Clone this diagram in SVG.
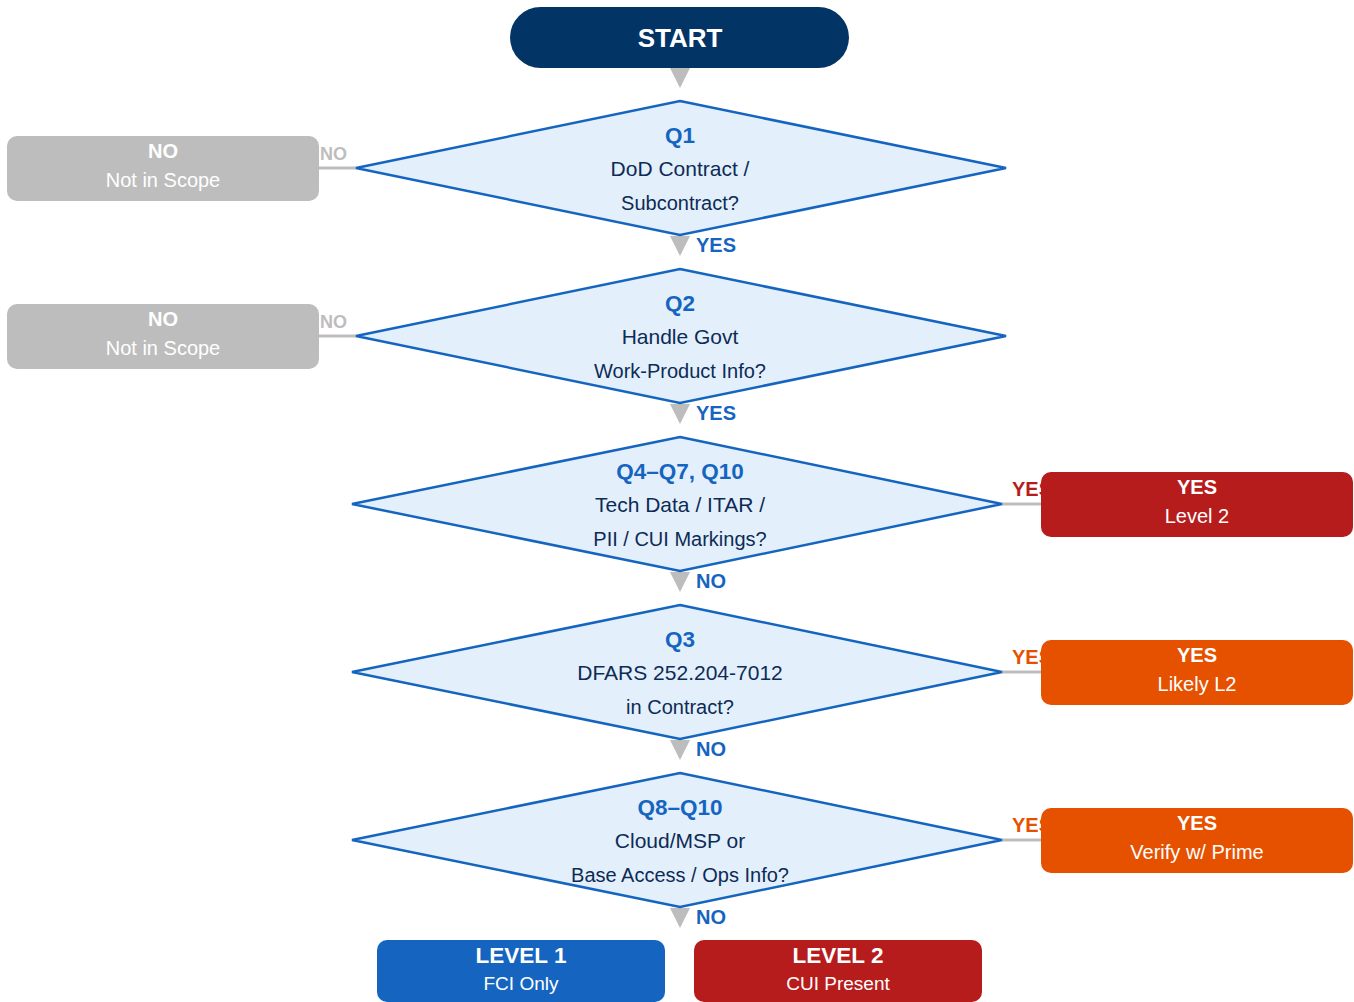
<svg xmlns="http://www.w3.org/2000/svg" width="1354" height="1002" viewBox="0 0 1354 1002">
<defs>
<style>
text{font-family:"Liberation Sans",Arial,sans-serif;}
.dia{fill:#E3F0FC;stroke:#1565C0;stroke-width:2.5;}
.qt{font-size:22.5px;font-weight:bold;fill:#1565C0;text-anchor:middle;}
.qb{font-size:21px;fill:#0D2B55;text-anchor:middle;}
.qb2{font-size:20px;fill:#0D2B55;text-anchor:middle;}
.ln{stroke:#BDBDBD;stroke-width:3;fill:none;}
.tri{fill:#BDBDBD;}
.bl{font-size:20px;font-weight:bold;fill:#1565C0;}
.nol{font-size:18px;font-weight:bold;fill:#BDBDBD;}
.wt{font-size:20px;font-weight:bold;fill:#fff;text-anchor:middle;}
.ws{font-size:20px;fill:#fff;text-anchor:middle;}
.gray{fill:#BDBDBD;}
.red{fill:#B71C1C;}
.org{fill:#E65100;}
</style>
</defs>
<g id="connectors">
<polygon class="tri" points="670,68 690,68 680,88"/>
<polygon class="tri" points="670,236 690,236 680,256"/>
<polygon class="tri" points="670,404 690,404 680,424"/>
<polygon class="tri" points="670,572 690,572 680,592"/>
<polygon class="tri" points="670,740 690,740 680,760"/>
<polygon class="tri" points="670,908 690,908 680,928"/>
<text class="bl" x="696" y="252">YES</text>
<text class="bl" x="696" y="420">YES</text>
<text class="bl" x="696" y="588">NO</text>
<text class="bl" x="696" y="756">NO</text>
<text class="bl" x="696" y="924">NO</text>
<line class="ln" x1="318" y1="168" x2="356" y2="168"/>
<line class="ln" x1="318" y1="336" x2="356" y2="336"/>
<line class="ln" x1="1002" y1="504" x2="1042" y2="504"/>
<line class="ln" x1="1002" y1="672" x2="1042" y2="672"/>
<line class="ln" x1="1002" y1="840" x2="1042" y2="840"/>
<text class="nol" x="320" y="160">NO</text>
<text class="nol" x="320" y="328">NO</text>
<text class="bl" x="1012" y="496" style="fill:#B71C1C">YES</text>
<text class="bl" x="1012" y="664" style="fill:#E65100">YES</text>
<text class="bl" x="1012" y="832" style="fill:#E65100">YES</text>
</g>
<g id="start">
<rect x="510" y="7" width="339" height="61" rx="30.5" fill="#023466"/>
<text x="680" y="47" style="font-size:26px;font-weight:bold;fill:#fff;text-anchor:middle">START</text>
</g>
<g id="q1">
<polygon class="dia" points="680,101 1006,168 680,235 356,168"/>
<text class="qt" x="680" y="143">Q1</text>
<text class="qb" x="680" y="176">DoD Contract /</text>
<text class="qb2" x="680" y="210">Subcontract?</text>
</g>
<g id="q2">
<polygon class="dia" points="680,269 1006,336 680,403 356,336"/>
<text class="qt" x="680" y="311">Q2</text>
<text class="qb" x="680" y="344">Handle Govt</text>
<text class="qb2" x="680" y="378">Work-Product Info?</text>
</g>
<g id="q4">
<polygon class="dia" points="680,437 1002,504 680,571 352,504"/>
<text class="qt" x="680" y="479">Q4–Q7, Q10</text>
<text class="qb" x="680" y="512">Tech Data / ITAR /</text>
<text class="qb2" x="680" y="546">PII / CUI Markings?</text>
</g>
<g id="q3">
<polygon class="dia" points="680,605 1002,672 680,739 352,672"/>
<text class="qt" x="680" y="647">Q3</text>
<text class="qb" x="680" y="680">DFARS 252.204-7012</text>
<text class="qb2" x="680" y="714">in Contract?</text>
</g>
<g id="q8">
<polygon class="dia" points="680,773 1002,840 680,907 352,840"/>
<text class="qt" x="680" y="815">Q8–Q10</text>
<text class="qb" x="680" y="848">Cloud/MSP or</text>
<text class="qb2" x="680" y="882">Base Access / Ops Info?</text>
</g>
<g id="no1">
<rect class="gray" x="7" y="136" width="312" height="65" rx="10"/>
<text class="wt" x="163" y="158">NO</text>
<text class="ws" x="163" y="187">Not in Scope</text>
</g>
<g id="no2">
<rect class="gray" x="7" y="304" width="312" height="65" rx="10"/>
<text class="wt" x="163" y="326">NO</text>
<text class="ws" x="163" y="355">Not in Scope</text>
</g>
<g id="yes-l2">
<rect class="red" x="1041" y="472" width="312" height="65" rx="10"/>
<text class="wt" x="1197" y="494">YES</text>
<text class="ws" x="1197" y="523">Level 2</text>
</g>
<g id="yes-likely">
<rect class="org" x="1041" y="640" width="312" height="65" rx="10"/>
<text class="wt" x="1197" y="662">YES</text>
<text class="ws" x="1197" y="691">Likely L2</text>
</g>
<g id="yes-verify">
<rect class="org" x="1041" y="808" width="312" height="65" rx="10"/>
<text class="wt" x="1197" y="830">YES</text>
<text class="ws" x="1197" y="859">Verify w/ Prime</text>
</g>
<g id="level1">
<rect x="377" y="940" width="288" height="62" rx="10" fill="#1565C0"/>
<text x="521" y="963" style="font-size:22.5px;font-weight:bold;fill:#fff;text-anchor:middle">LEVEL 1</text>
<text x="521" y="990" style="font-size:19px;fill:#fff;text-anchor:middle">FCI Only</text>
</g>
<g id="level2">
<rect x="694" y="940" width="288" height="62" rx="10" fill="#B71C1C"/>
<text x="838" y="963" style="font-size:22.5px;font-weight:bold;fill:#fff;text-anchor:middle">LEVEL 2</text>
<text x="838" y="990" style="font-size:19px;fill:#fff;text-anchor:middle">CUI Present</text>
</g>
</svg>
